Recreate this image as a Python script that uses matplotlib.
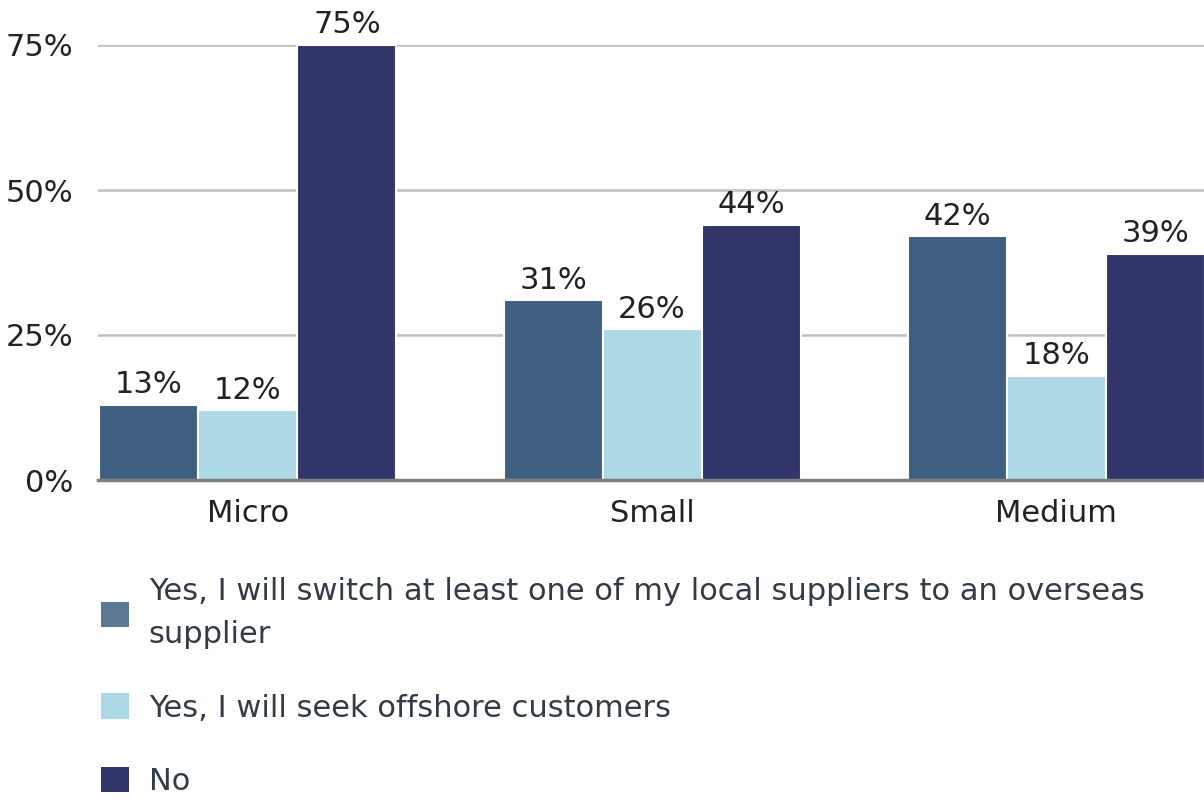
import numpy as np
import matplotlib
matplotlib.use("Agg")
import matplotlib.pyplot as plt
from matplotlib.patches import Patch

# ── data ────────────────────────────────────────────────────────────────────
categories = ["Micro", "Small", "Medium"]
series_names = [
    "Yes, I will switch at least one of my local suppliers to an overseas\nsupplier",
    "Yes, I will seek offshore customers",
    "No",
]
switch_suppliers = [13, 31, 42]
offshore_customers = [12, 26, 18]
no_change = [75, 44, 39]
y_ticks = [0, 25, 50, 75]

series = [switch_suppliers, offshore_customers, no_change]
bar_colors = ["#3e5f80", "#add8e6", "#31356a"]
legend_colors = ["#5c7893", "#add8e6", "#31356a"]

plt.rcParams["font.family"] = ["DejaVu Sans"]
FS = 22

W, H = 1204, 801
fig = plt.figure(figsize=(W / 100, H / 100), dpi=100)
ax = fig.add_axes([98 / W, (H - 480) / H, 1 - 98 / W, (480 - 45) / H])

x = np.arange(len(categories))
width = 0.245
for i, (vals, col) in enumerate(zip(series, bar_colors)):
    pos = x + (i - 1) * width
    bars = ax.bar(pos, vals, width, color=col, edgecolor="white", linewidth=1.5, zorder=3)
    for b, v in zip(bars, vals):
        ax.annotate(f"{v}%", (b.get_x() + b.get_width() / 2, v),
                    xytext=(0, 4), textcoords="offset points",
                    ha="center", va="bottom", fontsize=FS, color="#222222")

ax.set_xlim(-0.371, 2.366)
ax.set_ylim(0, 75)
ax.set_yticks(y_ticks)
ax.set_yticklabels([f"{t}%" for t in y_ticks])
ax.set_xticks(x)
ax.set_xticklabels(categories)
ax.tick_params(axis="both", length=0, labelsize=FS, colors="#222222")
ax.tick_params(axis="y", pad=18)
ax.tick_params(axis="x", pad=14)
ax.grid(axis="y", color="#c0c0c0", linewidth=1.8, zorder=0)
ax.set_axisbelow(True)
for s in ["top", "right", "left"]:
    ax.spines[s].set_visible(False)
ax.spines["bottom"].set_color("#7f7f7f")
ax.spines["bottom"].set_linewidth(2.5)
ax.spines["bottom"].set_zorder(4)

handles = [Patch(facecolor=c, edgecolor="none") for c in legend_colors]
leg = fig.legend(handles, series_names, loc="upper left", bbox_to_anchor=(80 / W, 1 - 556 / H),
                 frameon=False, fontsize=FS, labelcolor="#333b45",
                 handlelength=0.9, handleheight=0.9, handletextpad=0.65,
                 labelspacing=1.45, borderpad=0.2)
for t in leg.get_texts():
    t.set_linespacing(1.6)

fig.savefig("out.png", dpi=100)
